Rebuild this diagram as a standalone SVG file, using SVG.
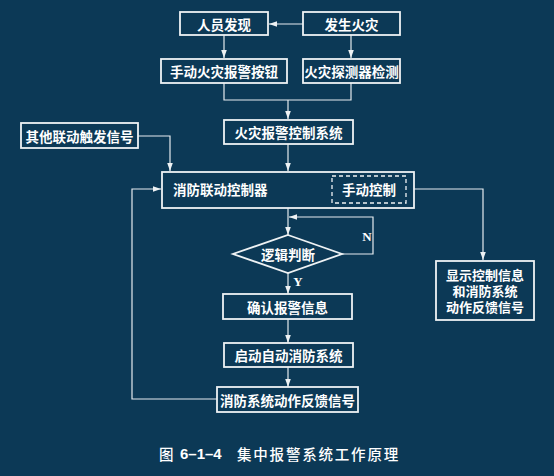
<svg xmlns="http://www.w3.org/2000/svg" width="554" height="476" viewBox="0 0 554 476">
<style>
.bg{fill:#0c3956}
.box{fill:none;stroke:#eef2f4;stroke-width:1.8}
.dash{fill:none;stroke:#eef2f4;stroke-width:1.3;stroke-dasharray:4 3}
.ln{fill:none;stroke:#e6ecef;stroke-width:1.2}
.t{fill:#ffffff;font-family:"Noto Sans CJK SC","Noto Sans",sans-serif;font-size:13.5px;font-weight:bold;text-anchor:middle;dominant-baseline:central}
.t2{fill:#ffffff;font-family:"Noto Sans CJK SC","Noto Sans",sans-serif;font-size:13px;font-weight:bold;text-anchor:middle;dominant-baseline:central}
.lt{fill:#ffffff;font-family:"Liberation Serif",serif;font-size:13px;font-weight:bold;text-anchor:middle;dominant-baseline:central}
.cap{fill:#ffffff;font-family:"Noto Sans CJK SC","Noto Sans",sans-serif;font-size:14.5px;font-weight:500;dominant-baseline:central}
.capn{fill:#ffffff;font-family:"Liberation Sans",sans-serif;font-size:15px;font-weight:bold;dominant-baseline:central}
</style>
<defs>
<marker id="ar" viewBox="0 0 10 10" refX="10" refY="5" markerWidth="8" markerHeight="8" markerUnits="userSpaceOnUse" orient="auto">
<path d="M0,1.5 L10,5 L0,8.5 Z" fill="#eef2f4"/>
</marker>
</defs>
<rect class="bg" x="0" y="0" width="554" height="476"/>

<g id="connectors">
<line class="ln" x1="303" y1="24" x2="269" y2="24" marker-end="url(#ar)"/>
<line class="ln" x1="224" y1="35" x2="224" y2="58" marker-end="url(#ar)"/>
<line class="ln" x1="351" y1="35" x2="351" y2="58" marker-end="url(#ar)"/>
<polyline class="ln" points="224,83 224,100 351,100 351,83"/>
<line class="ln" x1="288" y1="100" x2="288" y2="119" marker-end="url(#ar)"/>
<polyline class="ln" points="138,136 170,136 170,171" marker-end="url(#ar)"/>
<line class="ln" x1="288" y1="144" x2="288" y2="171" marker-end="url(#ar)"/>
<polyline class="ln" points="414,189 483,189 483,260" marker-end="url(#ar)"/>
<line class="ln" x1="288" y1="208" x2="288" y2="235" marker-end="url(#ar)"/>
<polyline class="ln" points="342,254 373,254 373,217 289,217" marker-end="url(#ar)"/>
<line class="ln" x1="288" y1="273" x2="288" y2="294" marker-end="url(#ar)"/>
<line class="ln" x1="288" y1="319" x2="288" y2="343" marker-end="url(#ar)"/>
<line class="ln" x1="288" y1="367" x2="288" y2="387" marker-end="url(#ar)"/>
<polyline class="ln" points="217,399 132,399 132,189 161,189" marker-end="url(#ar)"/>
<text class="lt" x="367" y="236">N</text>
<text class="lt" x="298" y="281">Y</text>
</g>

<g id="n-renyuan"><rect class="box" x="180" y="12" width="88" height="23"/><text class="t" x="224" y="23.5">人员发现</text></g>
<g id="n-fasheng"><rect class="box" x="303" y="12" width="97" height="23"/><text class="t" x="351.5" y="23.5">发生火灾</text></g>
<g id="n-shoudong"><rect class="box" x="161" y="59" width="126" height="24"/><text class="t" x="224" y="71">手动火灾报警按钮</text></g>
<g id="n-tance"><rect class="box" x="303" y="59" width="97" height="24"/><text class="t" x="351.5" y="71">火灾探测器检测</text></g>
<g id="n-baojing"><rect class="box" x="224" y="120" width="129" height="24"/><text class="t" x="288.5" y="132">火灾报警控制系统</text></g>
<g id="n-qita"><rect class="box" x="21" y="123" width="117" height="25"/><text class="t" x="79.5" y="135.5">其他联动触发信号</text></g>
<g id="n-liandong"><rect class="box" x="162" y="172" width="252" height="36"/><text class="t" x="173" y="189" style="text-anchor:start">消防联动控制器</text>
<rect class="dash" x="332" y="176" width="74" height="27"/><text class="t" x="369" y="189">手动控制</text></g>
<g id="n-xianshi"><rect class="box" x="436" y="261" width="98" height="59"/><text class="t2" x="485" y="274.5">显示控制信息</text><text class="t2" x="485" y="290.5">和消防系统</text><text class="t2" x="485" y="306.5">动作反馈信号</text></g>
<g id="n-luoji"><polygon class="box" points="288,235 342,254 288,273 233,254"/><text class="t" x="288" y="254">逻辑判断</text></g>
<g id="n-queren"><rect class="box" x="223" y="294" width="129" height="25"/><text class="t" x="287.5" y="306.5">确认报警信息</text></g>
<g id="n-qidong"><rect class="box" x="224" y="343" width="129" height="24"/><text class="t" x="288.5" y="355">启动自动消防系统</text></g>
<g id="n-fankui"><rect class="box" x="217" y="387" width="141" height="25"/><text class="t" x="287.5" y="399.5">消防系统动作反馈信号</text></g>

<g id="caption"><text class="cap" x="159" y="453">图</text><text class="capn" x="180" y="453">6–1–4</text><text class="cap" x="237" y="453" letter-spacing="1.8">集中报警系统工作原理</text></g>
</svg>
